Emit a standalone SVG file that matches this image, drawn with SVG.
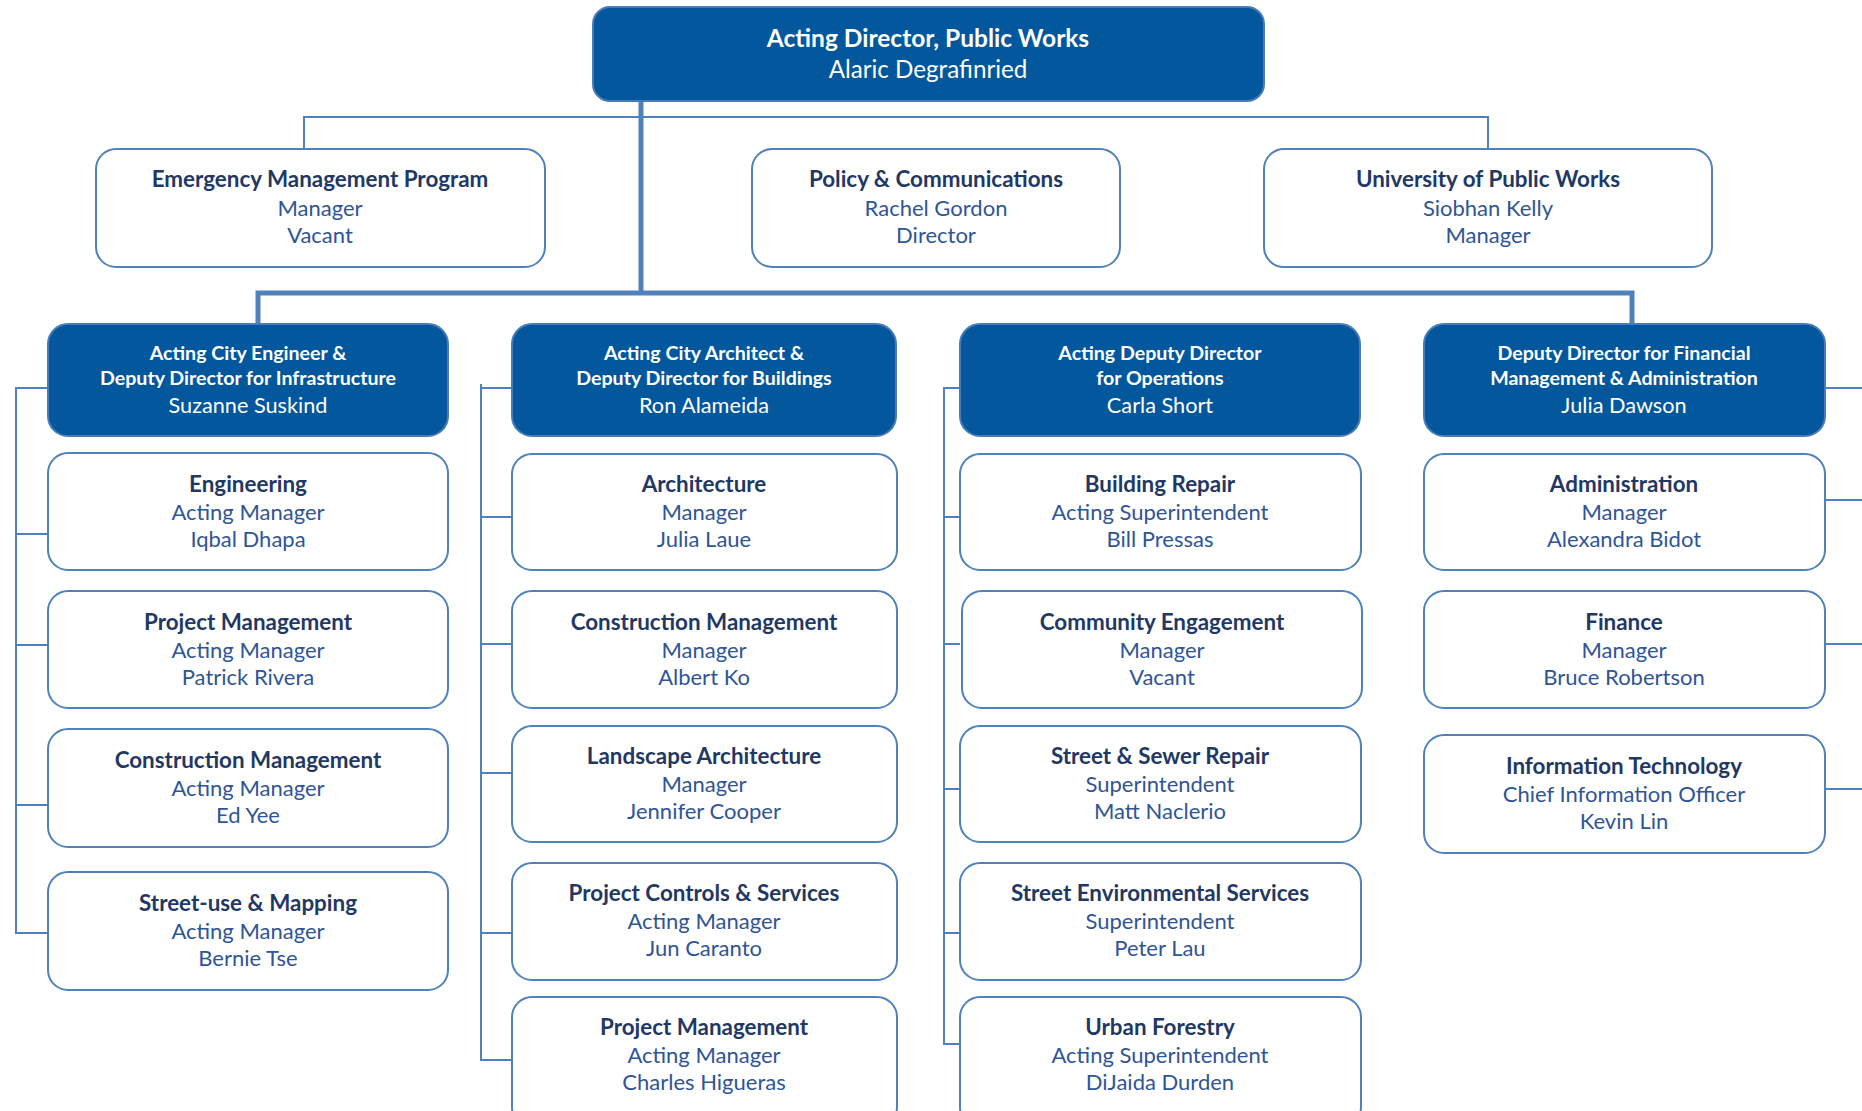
<svg xmlns="http://www.w3.org/2000/svg" width="1862" height="1111" viewBox="0 0 1862 1111">
<style>
.db{fill:#03579c;stroke:#4a7bb9;stroke-width:2}
.wb{fill:#ffffff;stroke:#4f81bd;stroke-width:2}
.c{fill:none;stroke:#4f81bd;stroke-width:2}
.ct{fill:none;stroke:#4f81bd;stroke-width:5}
text{font-family:Lato,"Liberation Sans",sans-serif;text-anchor:middle}
.tb{font-weight:bold;font-size:22.4px;fill:#1f3864}
.tr{font-size:22px;fill:#2f5597}
.hb{font-weight:bold;font-size:19.6px;fill:#ffffff}
.hr{font-size:21.7px;fill:#ffffff}
.xb{font-weight:bold;font-size:24.5px;fill:#ffffff}
.xr{font-size:24.2px;fill:#ffffff}
</style>
<rect width="1862" height="1111" fill="#ffffff"/>
<g id="connectors">
<path class="ct" d="M641,100 V293"/>
<path class="ct" d="M258,324 V293 H1632 V324"/>
<path class="c" d="M304,149 V117 H1488 V149"/>
<path class="c" d="M48,388 H16 V933 H48 M16,534 H48 M16,645 H48 M16,805 H48"/>
<path class="c" d="M512,388 H481 M481,384 V1060 H512 M481,517 H512 M481,644 H512 M481,773 H512 M481,933 H512"/>
<path class="c" d="M960,388 H944 V1044 H960 M944,517 H960 M944,644 H960 M944,789 H960 M944,933 H960"/>
<path class="c" d="M1825,388 H1862 M1825,500 H1862 M1825,644 H1862 M1825,789 H1862"/>
</g>
<g id="director">
<rect class="db" x="593" y="7" width="671" height="94" rx="17"/>
<text class="xb" x="928" y="47">Acting Director, Public Works</text>
<text class="xr" x="928" y="78">Alaric Degrafinried</text>
</g>
<g id="emergency">
<rect class="wb" x="96" y="149" width="449" height="118" rx="20"/>
<text class="tb" x="320" y="187">Emergency Management Program</text>
<text class="tr" x="320" y="216">Manager</text>
<text class="tr" x="320" y="243">Vacant</text>
</g>
<g id="policy">
<rect class="wb" x="752" y="149" width="368" height="118" rx="20"/>
<text class="tb" x="936" y="187">Policy &amp; Communications</text>
<text class="tr" x="936" y="216">Rachel Gordon</text>
<text class="tr" x="936" y="243">Director</text>
</g>
<g id="university">
<rect class="wb" x="1264" y="149" width="448" height="118" rx="20"/>
<text class="tb" x="1488" y="187">University of Public Works</text>
<text class="tr" x="1488" y="216">Siobhan Kelly</text>
<text class="tr" x="1488" y="243">Manager</text>
</g>
<g id="engineer">
<rect class="db" x="48" y="324" width="400" height="112" rx="20"/>
<text class="hb" x="248" y="360">Acting City Engineer &amp;</text>
<text class="hb" x="248" y="385">Deputy Director for Infrastructure</text>
<text class="hr" x="248" y="413">Suzanne Suskind</text>
</g>
<g id="architect">
<rect class="db" x="512" y="324" width="384" height="112" rx="20"/>
<text class="hb" x="704" y="360">Acting City Architect &amp;</text>
<text class="hb" x="704" y="385">Deputy Director for Buildings</text>
<text class="hr" x="704" y="413">Ron Alameida</text>
</g>
<g id="operations">
<rect class="db" x="960" y="324" width="400" height="112" rx="20"/>
<text class="hb" x="1160" y="360">Acting Deputy Director</text>
<text class="hb" x="1160" y="385">for Operations</text>
<text class="hr" x="1160" y="413">Carla Short</text>
</g>
<g id="finance-director">
<rect class="db" x="1424" y="324" width="401" height="112" rx="20"/>
<text class="hb" x="1624" y="360">Deputy Director for Financial</text>
<text class="hb" x="1624" y="385">Management &amp; Administration</text>
<text class="hr" x="1624" y="413">Julia Dawson</text>
</g>
<g id="engineering">
<rect class="wb" x="48" y="453" width="400" height="117" rx="20"/>
<text class="tb" x="248" y="492">Engineering</text>
<text class="tr" x="248" y="520">Acting Manager</text>
<text class="tr" x="248" y="547">Iqbal Dhapa</text>
</g>
<g id="project-management-1">
<rect class="wb" x="48" y="591" width="400" height="117" rx="20"/>
<text class="tb" x="248" y="630">Project Management</text>
<text class="tr" x="248" y="658">Acting Manager</text>
<text class="tr" x="248" y="685">Patrick Rivera</text>
</g>
<g id="construction-management-1">
<rect class="wb" x="48" y="729" width="400" height="118" rx="20"/>
<text class="tb" x="248" y="768">Construction Management</text>
<text class="tr" x="248" y="796">Acting Manager</text>
<text class="tr" x="248" y="823">Ed Yee</text>
</g>
<g id="street-use">
<rect class="wb" x="48" y="872" width="400" height="118" rx="20"/>
<text class="tb" x="248" y="911">Street-use &amp; Mapping</text>
<text class="tr" x="248" y="939">Acting Manager</text>
<text class="tr" x="248" y="966">Bernie Tse</text>
</g>
<g id="architecture">
<rect class="wb" x="512" y="454" width="385" height="116" rx="20"/>
<text class="tb" x="704" y="492">Architecture</text>
<text class="tr" x="704" y="520">Manager</text>
<text class="tr" x="704" y="547">Julia Laue</text>
</g>
<g id="construction-management-2">
<rect class="wb" x="512" y="591" width="385" height="117" rx="20"/>
<text class="tb" x="704" y="630">Construction Management</text>
<text class="tr" x="704" y="658">Manager</text>
<text class="tr" x="704" y="685">Albert Ko</text>
</g>
<g id="landscape">
<rect class="wb" x="512" y="726" width="385" height="116" rx="20"/>
<text class="tb" x="704" y="764">Landscape Architecture</text>
<text class="tr" x="704" y="792">Manager</text>
<text class="tr" x="704" y="819">Jennifer Cooper</text>
</g>
<g id="project-controls">
<rect class="wb" x="512" y="863" width="385" height="117" rx="20"/>
<text class="tb" x="704" y="901">Project Controls &amp; Services</text>
<text class="tr" x="704" y="929">Acting Manager</text>
<text class="tr" x="704" y="956">Jun Caranto</text>
</g>
<g id="project-management-2">
<rect class="wb" x="512" y="997" width="385" height="130" rx="20"/>
<text class="tb" x="704" y="1035">Project Management</text>
<text class="tr" x="704" y="1063">Acting Manager</text>
<text class="tr" x="704" y="1090">Charles Higueras</text>
</g>
<g id="building-repair">
<rect class="wb" x="960" y="454" width="401" height="116" rx="20"/>
<text class="tb" x="1160" y="492">Building Repair</text>
<text class="tr" x="1160" y="520">Acting Superintendent</text>
<text class="tr" x="1160" y="547">Bill Pressas</text>
</g>
<g id="community">
<rect class="wb" x="962" y="591" width="400" height="117" rx="20"/>
<text class="tb" x="1162" y="630">Community Engagement</text>
<text class="tr" x="1162" y="658">Manager</text>
<text class="tr" x="1162" y="685">Vacant</text>
</g>
<g id="street-sewer">
<rect class="wb" x="960" y="726" width="401" height="116" rx="20"/>
<text class="tb" x="1160" y="764">Street &amp; Sewer Repair</text>
<text class="tr" x="1160" y="792">Superintendent</text>
<text class="tr" x="1160" y="819">Matt Naclerio</text>
</g>
<g id="street-environmental">
<rect class="wb" x="960" y="863" width="401" height="117" rx="20"/>
<text class="tb" x="1160" y="901">Street Environmental Services</text>
<text class="tr" x="1160" y="929">Superintendent</text>
<text class="tr" x="1160" y="956">Peter Lau</text>
</g>
<g id="urban-forestry">
<rect class="wb" x="960" y="997" width="401" height="130" rx="20"/>
<text class="tb" x="1160" y="1035">Urban Forestry</text>
<text class="tr" x="1160" y="1063">Acting Superintendent</text>
<text class="tr" x="1160" y="1090">DiJaida Durden</text>
</g>
<g id="administration">
<rect class="wb" x="1424" y="454" width="401" height="116" rx="20"/>
<text class="tb" x="1624" y="492">Administration</text>
<text class="tr" x="1624" y="520">Manager</text>
<text class="tr" x="1624" y="547">Alexandra Bidot</text>
</g>
<g id="finance">
<rect class="wb" x="1424" y="591" width="401" height="117" rx="20"/>
<text class="tb" x="1624" y="630">Finance</text>
<text class="tr" x="1624" y="658">Manager</text>
<text class="tr" x="1624" y="685">Bruce Robertson</text>
</g>
<g id="information-technology">
<rect class="wb" x="1424" y="735" width="401" height="118" rx="20"/>
<text class="tb" x="1624" y="774">Information Technology</text>
<text class="tr" x="1624" y="802">Chief Information Officer</text>
<text class="tr" x="1624" y="829">Kevin Lin</text>
</g>
</svg>
